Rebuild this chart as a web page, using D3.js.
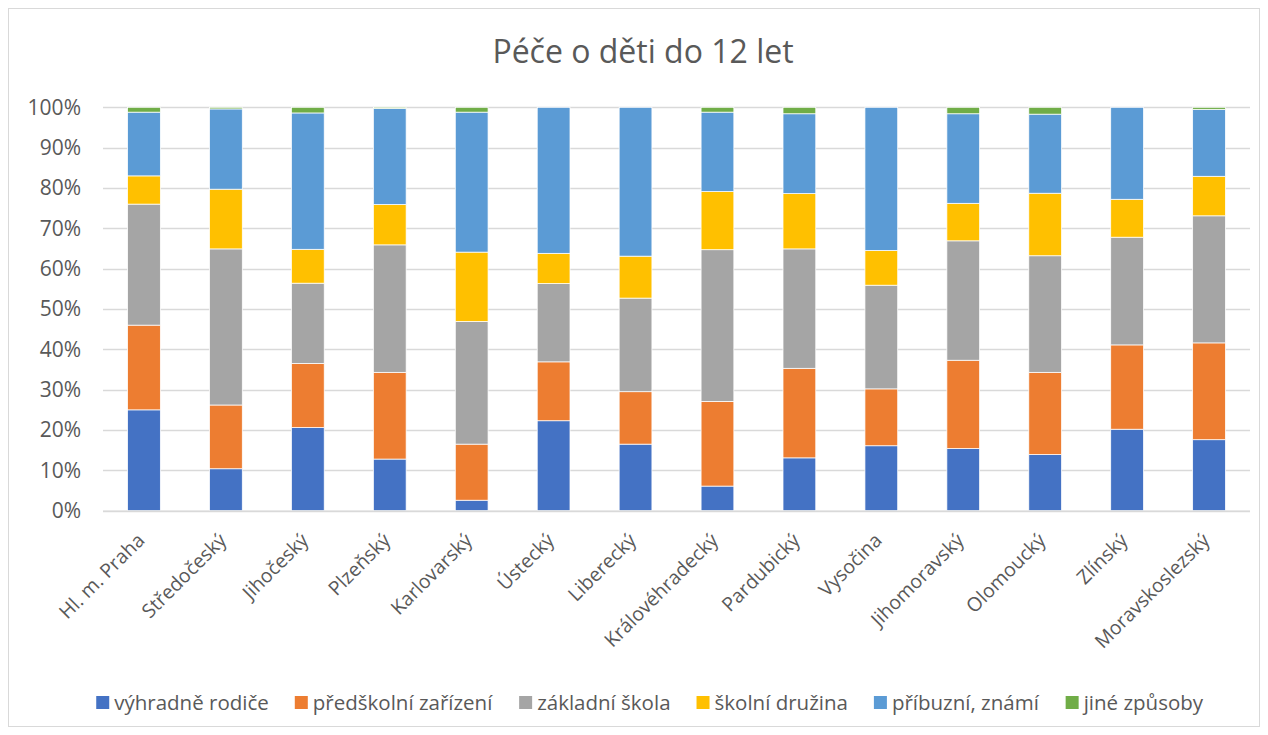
<!DOCTYPE html>
<html>
<head>
<meta charset="utf-8">
<script src="https://cdn.jsdelivr.net/npm/d3@7"></script>
<style>
  body { margin: 0; background: #fff; }
  svg { display: block; }
  text { font-family: "Open Sans", "Noto Sans", sans-serif; fill: #595959; }
</style>
</head>
<body>
<svg id="chart" width="1268" height="735"></svg>
<script>
const title = "Péče o děti do 12 let";
const regions = ["Hl. m. Praha", "Středočeský", "Jihočeský", "Plzeňský", "Karlovarský", "Ústecký", "Liberecký", "Královéhradecký", "Pardubický", "Vysočina", "Jihomoravský", "Olomoucký", "Zlínský", "Moravskoslezský"];
const seriesNames = ["výhradně rodiče", "předškolní zařízení", "základní škola", "školní družina", "příbuzní, známí", "jiné způsoby"];
const seriesColors = ["#4472C4", "#ED7D31", "#A5A5A5", "#FFC000", "#5B9BD5", "#70AD47"];
const vyhradneRodice    = [25.0, 10.4, 20.6, 12.8,  2.6, 22.3, 16.5,  6.1, 13.1, 16.1, 15.4, 13.9, 20.2, 17.6];
const predskolniZarizeni= [21.0, 15.8, 15.9, 21.5, 13.9, 14.6, 13.0, 21.0, 22.2, 14.1, 21.9, 20.4, 20.9, 24.0];
const zakladniSkola     = [30.0, 38.7, 19.9, 31.6, 30.4, 19.4, 23.2, 37.6, 29.6, 25.7, 29.6, 28.9, 26.7, 31.5];
const skolniDruzina     = [ 7.0, 14.8,  8.4, 10.0, 17.2,  7.5, 10.4, 14.4, 13.7,  8.6,  9.3, 15.5,  9.4,  9.8];
const pribuzniZnami     = [15.8, 19.9, 33.8, 23.8, 34.7, 36.2, 36.9, 19.7, 19.8, 35.5, 22.2, 19.6, 22.8, 16.6];
const jineZpusoby       = [ 1.2,  0.4,  1.4,  0.3,  1.2,  0.0,  0.0,  1.2,  1.6,  0.0,  1.6,  1.7,  0.0,  0.5];
const yTicks = [0, 10, 20, 30, 40, 50, 60, 70, 80, 90, 100];

const seriesValues = [vyhradneRodice, predskolniZarizeni, zakladniSkola, skolniDruzina, pribuzniZnami, jineZpusoby];
const rows = regions.map((r, i) => {
  const o = { region: r };
  seriesNames.forEach((s, k) => o[s] = seriesValues[k][i]);
  return o;
});
const stacked = d3.stack().keys(seriesNames).offset(d3.stackOffsetExpand)(rows);

const svg = d3.select("#chart");
svg.append("rect").attr("x", 8.5).attr("y", 8.5).attr("width", 1251).attr("height", 718)
  .attr("fill", "#fff").attr("stroke", "#d9d9d9");

const m = { left: 103, right: 1250, top: 107.3, bottom: 510.7 };
const x = d3.scaleBand().domain(regions).range([m.left, m.right]).paddingInner(0.6).paddingOuter(0.3);
const y = d3.scaleLinear().domain([0, 1]).range([m.bottom, m.top]);

svg.append("text").attr("x", 643).attr("y", 63).attr("text-anchor", "middle")
  .style("font-size", "32px").text(title);

// gridlines
svg.append("g").selectAll("line").data(yTicks).join("line")
  .attr("x1", m.left).attr("x2", m.right)
  .attr("y1", d => Math.round(y(d / 100)) + 0.5).attr("y2", d => Math.round(y(d / 100)) + 0.5)
  .attr("stroke", "#d9d9d9").attr("stroke-width", 1.3);

// y axis labels
const yAxis = d3.axisLeft(y).tickValues(yTicks.map(d => d / 100)).tickFormat(d3.format(".0%")).tickSize(0).tickPadding(0);
const yg = svg.append("g").attr("transform", `translate(${81},0)`).call(yAxis);
yg.select(".domain").remove();
yg.selectAll("text").style("font-size", "21px").attr("fill", "#595959").attr("font-family", null);

// bars
svg.append("g").selectAll("g").data(stacked).join("g")
  .attr("fill", (d, i) => seriesColors[i])
  .selectAll("rect").data(d => d).join("rect")
  .attr("x", d => x(d.data.region))
  .attr("width", x.bandwidth())
  .attr("y", d => y(d[1]))
  .attr("height", d => Math.max(0, y(d[0]) - y(d[1])))
  .attr("stroke", "#fff").attr("stroke-width", 0.75);

// x axis
const xAxis = d3.axisBottom(x).tickSize(0).tickPadding(0);
const xg = svg.append("g").attr("transform", `translate(0,${m.bottom})`).call(xAxis);
xg.select(".domain").attr("stroke", "#d9d9d9").attr("stroke-width", 1.3).attr("d", `M${m.left},0.5H${m.right}`);
xg.selectAll(".tick text")
  .style("font-size", "19.5px").attr("fill", "#595959").attr("font-family", null)
  .attr("text-anchor", "end").attr("y", 0).attr("dy", "0.35em")
  .attr("transform", "translate(-3,26) rotate(-45)");

// legend
const lg = svg.append("g").attr("transform", "translate(0,703)");
const items = lg.selectAll("g").data(seriesNames).join("g");
items.append("rect").attr("width", 13).attr("height", 13).attr("y", -7)
  .attr("fill", (d, i) => seriesColors[i]);
items.append("text").attr("x", 18).attr("dy", "0.35em").style("font-size", "20.5px").text(d => d);
const widths = [];
items.each(function () { widths.push(this.getBBox().width); });
const gap = 26;
const total = d3.sum(widths) + gap * (widths.length - 1);
let cx = 650 - total / 2;
items.attr("transform", (d, i) => { const t = `translate(${cx},0)`; cx += widths[i] + gap; return t; });
</script>
</body>
</html>
